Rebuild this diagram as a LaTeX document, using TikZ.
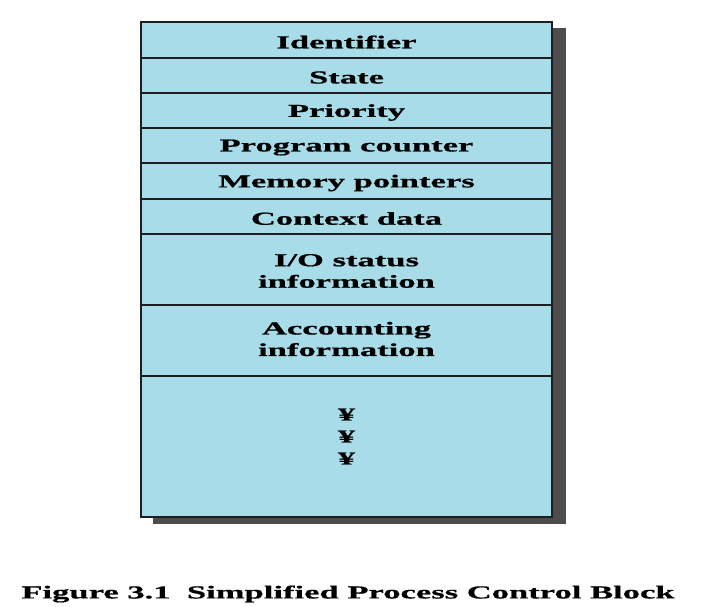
\documentclass[tikz,border=0pt]{standalone}
\usepackage{fontspec}
\setmainfont{Liberation Serif}[FakeStretch=1.9,FakeBold=0.8]
\definecolor{pcbfill}{RGB}{168,220,232}
\definecolor{shadowgray}{RGB}{77,77,77}
\definecolor{edge}{RGB}{30,30,30}
\begin{document}
\begin{tikzpicture}[x=1pt,y=-1pt,
  rowbox/.style={draw=edge, line width=1.4pt, fill=pcbfill, minimum width=411pt, inner sep=0pt, outer sep=0pt},
  lbl/.style={align=center, inner sep=0pt, font=\fontsize{18.2}{21.5}\selectfont\bfseries},
  captext/.style={font=\fontsize{18.2}{21}\selectfont\bfseries, inner sep=0pt}]
\useasboundingbox (0,0) rectangle (710,607);
\fill[shadowgray] (153,28) rectangle (566,524);
\node[rowbox, minimum height=36pt] (r1) at (346.5,40) {};
\node[rowbox, minimum height=35pt] (r2) at (346.5,75.5) {};
\node[rowbox, minimum height=35pt] (r3) at (346.5,110.5) {};
\node[rowbox, minimum height=35pt] (r4) at (346.5,145.5) {};
\node[rowbox, minimum height=36pt] (r5) at (346.5,181) {};
\node[rowbox, minimum height=35pt] (r6) at (346.5,216.5) {};
\node[rowbox, minimum height=71pt] (r7) at (346.5,269.5) {};
\node[rowbox, minimum height=71pt] (r8) at (346.5,340.5) {};
\node[rowbox, minimum height=141pt] (r9) at (346.5,446.5) {};
\draw[edge, line width=2.5pt] (r1.north west) rectangle (r9.south east);
\node[lbl] (t1) at ([yshift=-2pt]r1.center) {Identifier};
\node[lbl] (t2) at ([yshift=-2pt]r2.center) {State};
\node[lbl] (t3) at ([yshift=-2pt]r3.center) {Priority};
\node[lbl] (t4) at ([yshift=-2pt]r4.center) {Program counter};
\node[lbl] (t5) at ([yshift=-2pt]r5.center) {Memory pointers};
\node[lbl] (t6) at ([yshift=-2pt]r6.center) {Context data};
\node[lbl] (t7) at ([yshift=-1.5pt]r7.center) {I/O status\\information};
\node[lbl] (t8) at ([yshift=1.5pt]r8.center) {Accounting\\information};
\node[lbl] (t9) at ([yshift=10pt]r9.center) {¥\\[0.5pt]¥\\[0.5pt]¥};
\node[captext] (cap) at (348,594) {Figure 3.1\hspace{0.9em}Simplified Process Control Block};
\end{tikzpicture}
\end{document}
